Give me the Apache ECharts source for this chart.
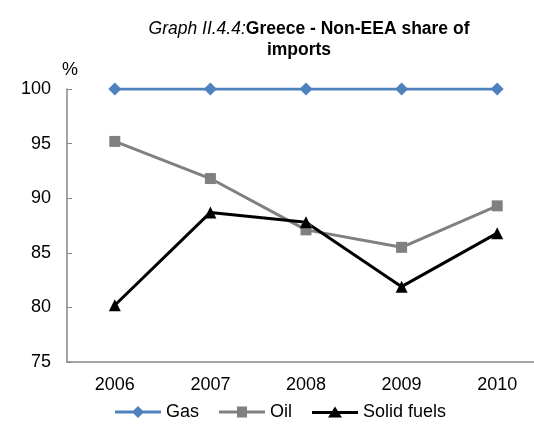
<!DOCTYPE html>
<html><head><meta charset="utf-8">
<script src="https://cdn.jsdelivr.net/npm/echarts@6/dist/echarts.min.js"></script>
<style>html,body{margin:0;padding:0;background:#fff}#c{width:534px;height:428px}</style>
</head><body><div id="c"></div>
<script>
var years = ['2006','2007','2008','2009','2010'];
var gas = [100, 100, 100, 100, 100];
var oil = [95.2, 91.8, 87.1, 85.5, 89.3];
var solid = [80.2, 88.7, 87.8, 81.9, 86.8];
var yTicks = [75, 80, 85, 90, 95, 100];

var chart = echarts.init(document.getElementById('c'));
var F = 'Liberation Sans, Arial, sans-serif';
chart.setOption({
  animation: false,
  textStyle: {fontFamily: F},
  title: [{
    text: '{i|Graph II.4.4:}{b|Greece - Non-EEA share of}',
    left: 304, top: 15, textAlign: 'center',
    textStyle: {
      rich: {
        i: {fontStyle: 'italic', fontWeight: 'normal', fontSize: 17.5, fontFamily: F, color: '#000'},
        b: {fontWeight: 'bold', fontSize: 17.5, fontFamily: F, color: '#000'}
      }
    }
  }, {
    text: 'imports',
    left: 294, top: 36, textAlign: 'center',
    textStyle: {fontWeight: 'bold', fontSize: 17.5, fontFamily: F, color: '#000'}
  }],
  grid: {left: 67, top: 89, width: 478, height: 273, containLabel: false, outerBoundsMode: 'none'},
  legend: {
    top: 398, left: 110,
    itemWidth: 46, itemHeight: 12, itemGap: 20,
    textStyle: {fontSize: 18, color: '#000', fontFamily: F},
    data: [
      {name: 'Gas', icon: 'path://M0,5.5H18.5L23,1L27.5,5.5H46V8.5H27.5L23,13L18.5,8.5H0Z'},
      {name: 'Oil', icon: 'path://M0,5.5H18V1.5H28V5.5H46V8.5H28V12.5H18V8.5H0Z'},
      {name: 'Solid fuels', icon: 'path://M0,5.5H20.14L23,1L25.86,5.5H46V8.5H27.77L30,12H16L18.23,8.5H0Z'}
    ]
  },
  xAxis: {
    type: 'category', data: years, boundaryGap: true,
    axisLine: {lineStyle: {color: '#868686', width: 1.5}},
    axisTick: {inside: true, length: 5, lineStyle: {color: '#868686'}},
    axisLabel: {color: '#000', fontSize: 18, margin: 14, fontFamily: F}
  },
  yAxis: {
    type: 'value', min: yTicks[0], max: yTicks[yTicks.length-1], interval: 5,
    name: '%', nameLocation: 'end', nameGap: 10,
    nameTextStyle: {color: '#000', fontSize: 18, align: 'center', fontFamily: F, padding: [0,0,0,6]},
    splitLine: {show: false},
    axisLine: {show: true, lineStyle: {color: '#868686', width: 1.5}},
    axisTick: {show: true, inside: true, length: 5, lineStyle: {color: '#868686'}},
    axisLabel: {color: '#000', fontSize: 18, margin: 16, fontFamily: F}
  },
  series: [
    {name: 'Gas', type: 'line', data: gas, symbol: 'diamond', symbolSize: 13,
     lineStyle: {color: '#4F81BD', width: 3}, itemStyle: {color: '#4F81BD'}},
    {name: 'Oil', type: 'line', data: oil, symbol: 'rect', symbolSize: 11,
     lineStyle: {color: '#808080', width: 3}, itemStyle: {color: '#808080'}},
    {name: 'Solid fuels', type: 'line', data: solid, symbol: 'triangle', symbolSize: 12,
     lineStyle: {color: '#000', width: 3}, itemStyle: {color: '#000'}}
  ]
});
</script></body></html>
